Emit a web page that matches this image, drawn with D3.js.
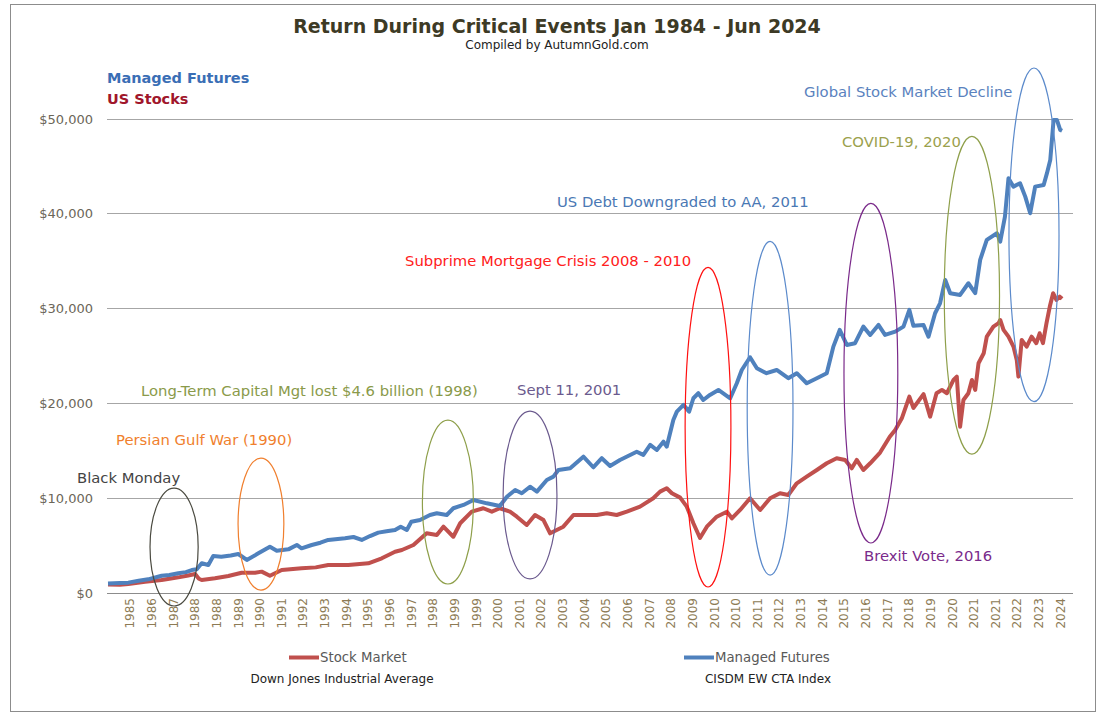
<!DOCTYPE html>
<html><head><meta charset="utf-8">
<script src="https://cdn.jsdelivr.net/npm/d3@7"></script>
<style>body{margin:0;background:#fff}svg{display:block;font-family:"DejaVu Sans",Verdana,sans-serif}</style>
</head><body><svg id="c" width="1105" height="717"></svg>
<script>
// ---- Data ----
// [decimal year, value in $] — Managed Futures (CISDM EW CTA Index)
const managedFutures = [
[1984.0,1000],[1984.5,1050],[1984.86,1090],[1985.3,1300],[1985.7,1440],[1986.27,1820],[1986.6,1900],[1986.98,2080],[1987.3,2200],[1987.55,2420],[1987.76,2500],[1987.97,3130],[1988.25,2950],[1988.46,3900],[1988.8,3830],[1989.2,3950],[1989.52,4110],[1989.88,3480],[1990.37,4180],[1990.86,4880],[1991.15,4460],[1991.64,4600],[1992.0,5060],[1992.2,4710],[1992.63,5060],[1993.0,5300],[1993.33,5590],[1994.04,5770],[1994.4,5900],[1994.75,5590],[1995.1,6000],[1995.45,6360],[1995.8,6500],[1996.16,6640],[1996.4,6990],[1996.66,6640],[1996.85,7500],[1997.22,7690],[1997.64,8220],[1997.93,8400],[1998.35,8220],[1998.63,8930],[1999.06,9280],[1999.48,9800],[2000.05,9450],[2000.6,9170],[2000.9,10150],[2001.25,10860],[2001.53,10510],[2001.88,11200],[2002.17,10680],[2002.59,11910],[2002.87,12260],[2003.08,12960],[2003.58,13140],[2004.14,14370],[2004.56,13250],[2004.92,14200],[2005.27,13390],[2005.69,14020],[2006.12,14550],[2006.4,14890],[2006.68,14550],[2006.97,15600],[2007.25,15070],[2007.53,15950],[2007.67,15420],[2007.95,18230],[2008.1,19110],[2008.38,19820],[2008.62,19110],[2008.8,20520],[2009.01,21050],[2009.22,20340],[2009.5,20870],[2009.86,21400],[2010.36,20520],[2010.64,22100],[2010.85,23500],[2011.2,24840],[2011.49,23680],[2011.9,23160],[2012.33,23500],[2012.82,22630],[2013.18,23160],[2013.6,22100],[2014.03,22630],[2014.45,23160],[2014.73,25960],[2015.0,27720],[2015.3,26140],[2015.65,26320],[2016.0,28070],[2016.29,27190],[2016.64,28250],[2016.92,27190],[2017.35,27540],[2017.7,28070],[2017.95,29830],[2018.12,28150],[2018.55,28250],[2018.76,27010],[2019.04,29480],[2019.25,30530],[2019.47,32990],[2019.68,31590],[2020.1,31410],[2020.45,32640],[2020.74,31590],[2020.95,35100],[2021.23,37210],[2021.66,37910],[2021.8,37030],[2022.0,39660],[2022.15,43710],[2022.36,42820],[2022.64,43180],[2022.86,41770],[2023.07,40020],[2023.28,42820],[2023.64,43000],[2023.78,44240],[2023.92,45640],[2024.06,49850],[2024.2,49850],[2024.34,48800],[2024.42,48700]
];
// [decimal year, value in $] — Stock Market (Dow Jones Industrial Average)
const stockMarket = [
[1984.0,900],[1984.5,880],[1984.86,950],[1985.57,1190],[1986.27,1370],[1986.6,1500],[1986.98,1650],[1987.4,1850],[1987.69,2000],[1987.85,1500],[1987.97,1370],[1988.53,1550],[1989.1,1790],[1989.66,2140],[1990.23,2140],[1990.51,2250],[1990.86,1820],[1991.36,2420],[1992.2,2600],[1992.8,2700],[1993.33,2950],[1994.18,2950],[1995.03,3130],[1995.6,3660],[1996.16,4350],[1996.45,4530],[1996.94,5060],[1997.5,6290],[1997.93,6110],[1998.21,6990],[1998.63,5930],[1998.92,7350],[1999.41,8570],[1999.9,8930],[2000.26,8570],[2000.6,8930],[2001.03,8570],[2001.32,8040],[2001.74,7170],[2002.09,8220],[2002.45,7690],[2002.73,6290],[2003.01,6640],[2003.29,6990],[2003.72,8220],[2004.28,8220],[2004.71,8220],[2005.13,8400],[2005.55,8220],[2005.98,8570],[2006.54,9100],[2007.1,9980],[2007.39,10680],[2007.67,11040],[2007.89,10510],[2008.24,10050],[2008.52,9100],[2008.8,7350],[2009.08,5800],[2009.37,6990],[2009.79,8040],[2010.22,8570],[2010.43,7870],[2010.78,8750],[2011.2,9980],[2011.63,8750],[2012.05,9980],[2012.47,10510],[2012.82,10330],[2013.18,11560],[2013.6,12260],[2014.03,12960],[2014.45,13670],[2014.87,14200],[2015.23,14020],[2015.51,13140],[2015.72,14020],[2016.0,12960],[2016.29,13670],[2016.71,14800],[2017.12,16470],[2017.35,17180],[2017.63,18410],[2017.95,20690],[2018.12,19500],[2018.55,20950],[2018.83,18580],[2019.1,21050],[2019.33,21400],[2019.54,21050],[2019.82,22450],[2019.96,22800],[2020.1,17530],[2020.24,20340],[2020.45,21050],[2020.6,22450],[2020.74,21400],[2020.88,24210],[2021.1,25260],[2021.23,27010],[2021.51,28070],[2021.73,28430],[2021.8,28770],[2021.94,27720],[2022.15,27010],[2022.36,25960],[2022.5,24560],[2022.57,22800],[2022.71,26670],[2022.92,25960],[2023.13,27010],[2023.33,26320],[2023.47,27370],[2023.61,26320],[2023.76,28430],[2023.9,30180],[2024.04,31590],[2024.18,30880],[2024.32,31230],[2024.42,31000]
];
// x-axis labels, shown every 11 months starting at month 11 (Dec 1984)
const xTickLabels = ["1985","1986","1987","1988","1988","1989","1990","1991","1992","1993","1994","1995","1996","1997","1998","1999","1999","2000","2001","2002","2003","2004","2005","2006","2007","2008","2009","2010","2010","2011","2012","2013","2014","2015","2016","2017","2018","2019","2020","2021","2021","2022","2023","2024"];
const yTickValues = [0,10000,20000,30000,40000,50000];
// event ellipses: centre year, centre value, half-width (years), half-height ($)
const eventNames   = ["Black Monday","Persian Gulf War (1990)","Long-Term Capital Mgt lost $4.6 billion (1998)","Sept 11, 2001","Subprime Mortgage Crisis 2008 - 2010","US Debt Downgraded to AA, 2011","Brexit Vote, 2016","COVID-19, 2020","Global Stock Market Decline"];
const eventYears   = [1986.80,1990.48,1998.40,2001.88,2009.42,2012.05,2016.32,2020.60,2023.23];
const eventValues  = [4840,7260,9580,10320,17470,19470,23160,31370,37740];
const eventHalfYrs = [1.02,0.97,1.08,1.14,0.97,0.97,1.14,1.17,1.06];
const eventHalfVal = [6210,6950,8630,8840,16840,17580,17890,16740,17580];

// ---- Layout / style ----
const eventColors = ["#4a4a40","#F07F2E","#8E9F4A","#6B5A8E","#FF1010","#5B8ACB","#7A2A8A","#8E9F4A","#5B8ACB"];
const eventTextColors = ["#444444","#F07F2E","#8A9A4A","#6B5A8E","#FF2020","#4A78B4","#7A2A8A","#9BA14D","#5A82BE"];
const eventTextPos = [[77,483],[116,445],[141,396],[517,395],[405,266],[557,207],[864,561],[842,147],[804,97]];
const red = "#C0504D", blue = "#4F81BD";

const svg = d3.select("#c");
svg.append("rect").attr("x",10.5).attr("y",4.5).attr("width",1085).attr("height",707)
  .attr("fill","#fff").attr("stroke","#8c8c8c").attr("stroke-width",1);

const x = d3.scaleLinear().domain([1984, 1984+485/12]).range([108,1062]);
const y = d3.scaleLinear().domain([0,50000]).range([593,118.5]);

// grid
svg.append("g").selectAll("line").data(yTickValues.slice(1)).join("line")
  .attr("x1",107).attr("x2",1073).attr("y1",d=>Math.round(y(d))+0.5).attr("y2",d=>Math.round(y(d))+0.5)
  .attr("stroke","#a6a6a6").attr("stroke-width",1);

// y axis labels
const yAxis = d3.axisLeft(y).tickValues(yTickValues).tickSize(0).tickPadding(0)
  .tickFormat(d=>"$"+d3.format(",")(d));
svg.append("g").attr("transform","translate(93,0)").call(yAxis)
  .call(g=>g.select(".domain").remove())
  .selectAll("text").attr("font-size",13).attr("fill","#6b6658").attr("font-family","DejaVu Sans").attr("dy","0.35em");

// x axis
const tickYears = xTickLabels.map((_,i)=>1984+(11+11*i)/12);
const xAxis = d3.axisBottom(x).tickValues(tickYears).tickSize(0).tickPadding(0)
  .tickFormat((d,i)=>xTickLabels[i]);
const gx = svg.append("g").attr("transform","translate(0,593)").call(xAxis);
gx.select(".domain").attr("stroke","#8c8c8c").attr("d","M107,0.5H1073");
gx.selectAll("text").attr("font-size",12).attr("fill","#8d7b55").attr("font-family","DejaVu Sans")
  .attr("transform","rotate(-90)").attr("text-anchor","end").attr("x",-5).attr("y",0).attr("dy","0.35em");

// lines
const line = d3.line().x(d=>x(d[0])).y(d=>y(d[1]));
svg.append("path").datum(stockMarket).attr("d",line).attr("fill","none")
  .attr("stroke",red).attr("stroke-width",4).attr("stroke-linejoin","round");
svg.append("path").datum(managedFutures).attr("d",line).attr("fill","none")
  .attr("stroke",blue).attr("stroke-width",4).attr("stroke-linejoin","round");

// event ellipses
svg.append("g").selectAll("ellipse").data(eventNames).join("ellipse")
  .attr("cx",(d,i)=>x(eventYears[i])).attr("cy",(d,i)=>y(eventValues[i]))
  .attr("rx",(d,i)=>x(1984+eventHalfYrs[i])-x(1984)).attr("ry",(d,i)=>y(0)-y(eventHalfVal[i]))
  .attr("fill","none").attr("stroke",(d,i)=>eventColors[i]).attr("stroke-width",1.2);

// event labels
svg.append("g").selectAll("text").data(eventNames).join("text")
  .attr("x",(d,i)=>eventTextPos[i][0]).attr("y",(d,i)=>eventTextPos[i][1])
  .attr("font-size",14.8).attr("fill",(d,i)=>eventTextColors[i]).text(d=>d);

// title
svg.append("text").attr("x",557).attr("y",33).attr("text-anchor","middle")
  .attr("font-size",19).attr("font-weight","bold").attr("fill","#3d3a25")
  .text("Return During Critical Events Jan 1984 - Jun 2024");
svg.append("text").attr("x",557).attr("y",49).attr("text-anchor","middle")
  .attr("font-size",12).attr("fill","#222").text("Compiled by AutumnGold.com");

// series captions top-left
svg.append("text").attr("x",107).attr("y",83).attr("font-size",14.5).attr("font-weight","bold")
  .attr("fill","#3A6EB5").text("Managed Futures");
svg.append("text").attr("x",107).attr("y",104).attr("font-size",14.5).attr("font-weight","bold")
  .attr("fill","#A0162B").text("US Stocks");

// legend
const legend = [
  {name:"Stock Market", sub:"Down Jones Industrial Average", color:red, x0:289, subX:342},
  {name:"Managed Futures", sub:"CISDM EW CTA Index", color:blue, x0:684, subX:768}
];
const lg = svg.append("g").selectAll("g").data(legend).join("g");
lg.append("line").attr("x1",d=>d.x0).attr("x2",d=>d.x0+30).attr("y1",657.5).attr("y2",657.5)
  .attr("stroke",d=>d.color).attr("stroke-width",4);
lg.append("text").attr("x",d=>d.x0+31).attr("y",662).attr("font-size",13.3).attr("fill","#595959").text(d=>d.name);
lg.append("text").attr("x",d=>d.subX).attr("y",683).attr("text-anchor","middle").attr("font-size",12)
  .attr("fill","#222").text(d=>d.sub);
</script></body></html>
